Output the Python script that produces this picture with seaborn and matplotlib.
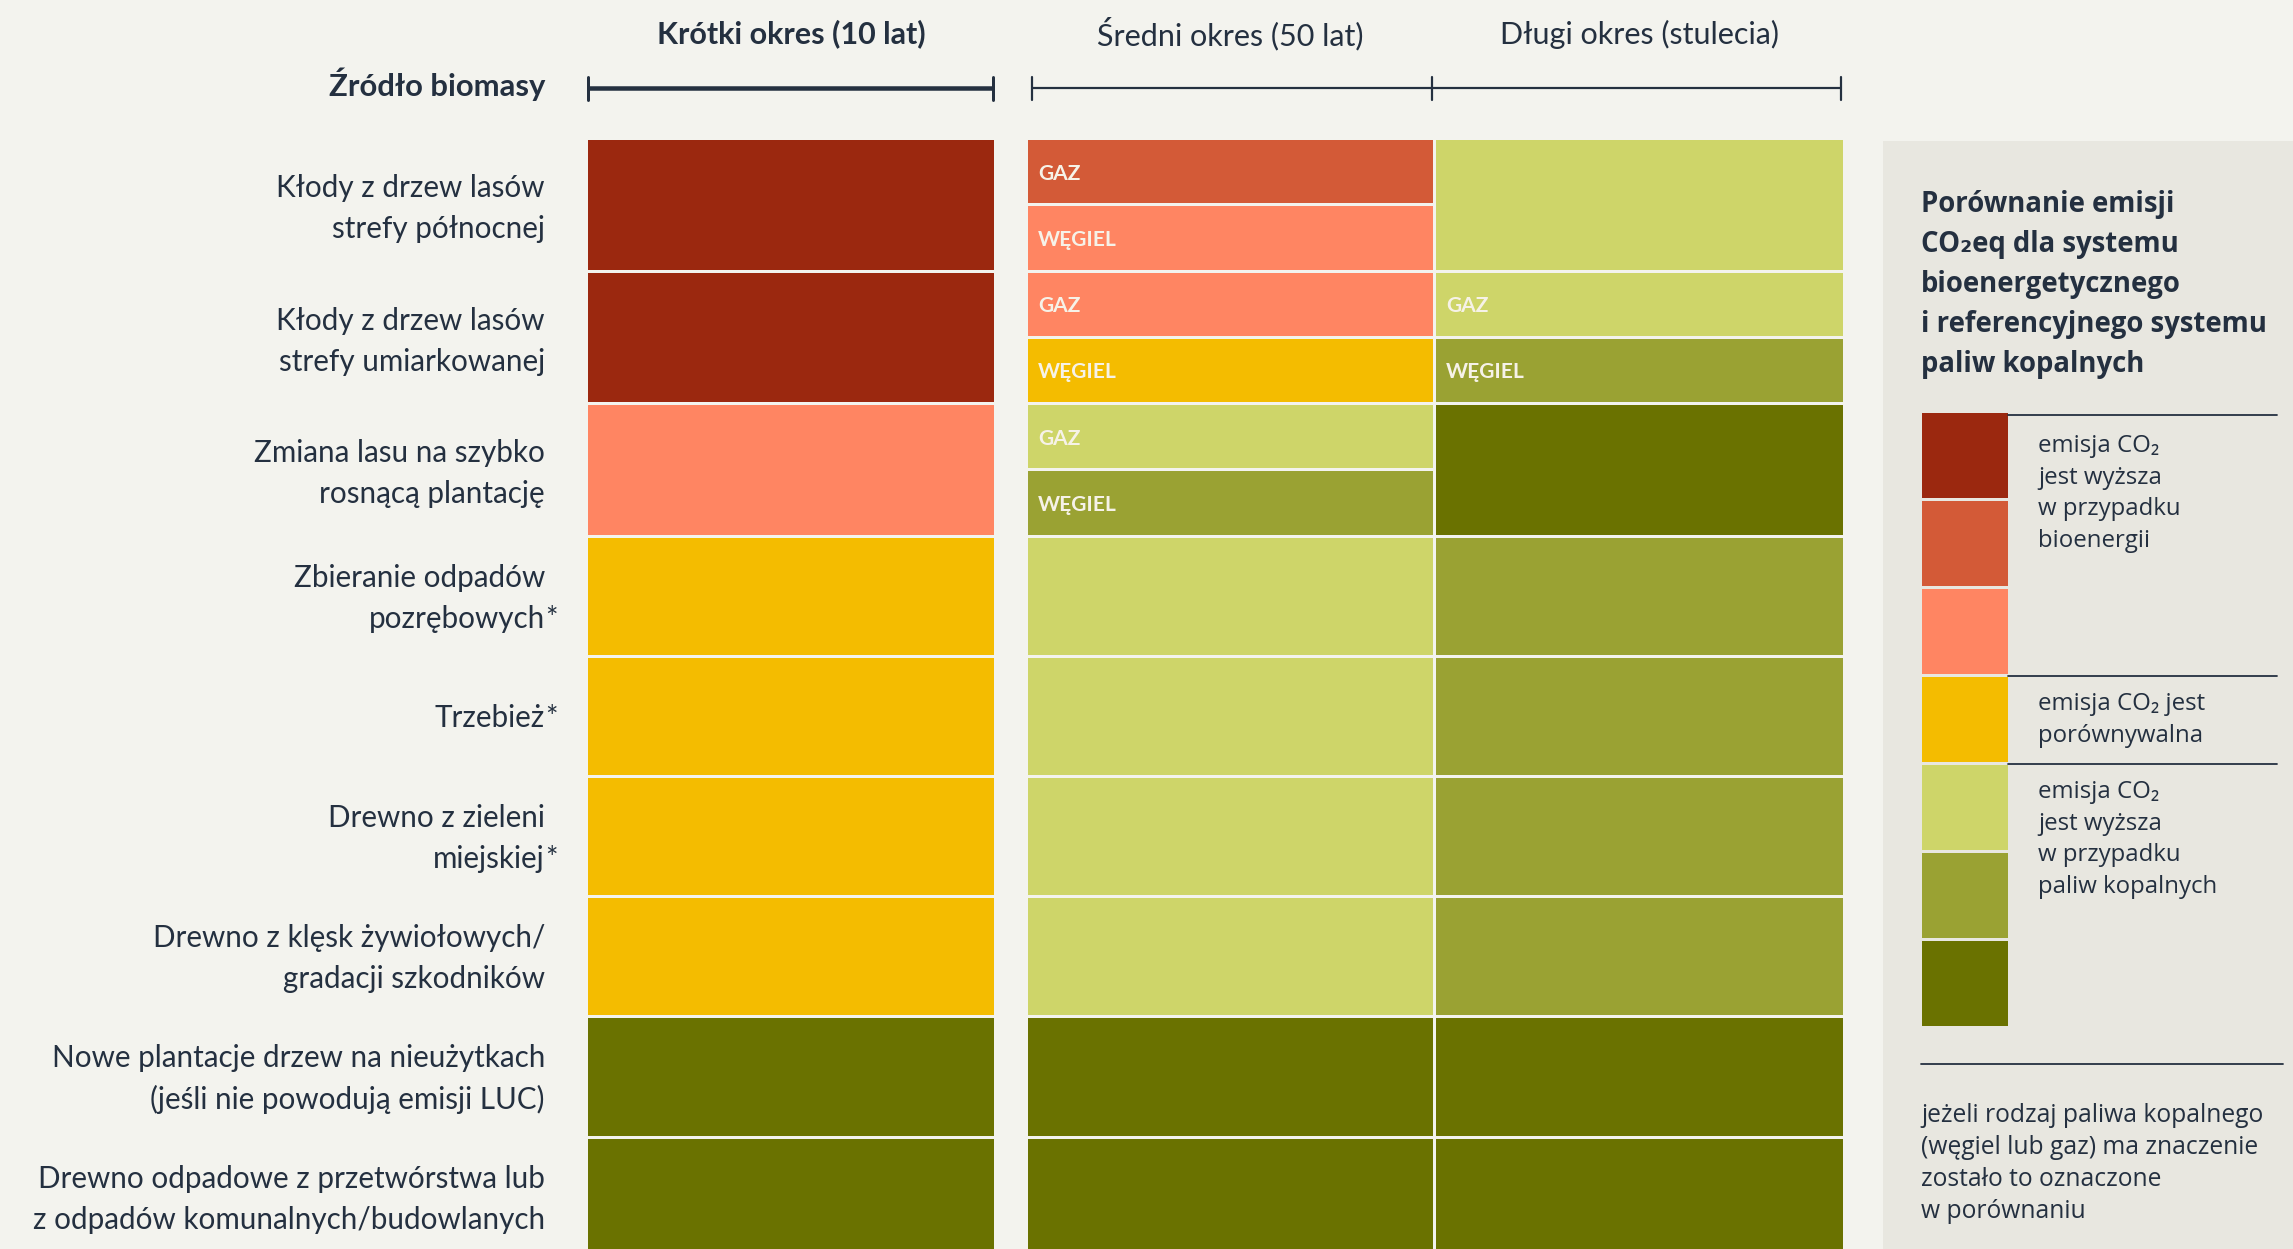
import matplotlib
matplotlib.use("Agg")
import matplotlib.pyplot as plt
import pandas as pd
import seaborn as sns

# ---------------------------------------------------------------- data
sources = [
    "Kłody z drzew lasów\nstrefy północnej",
    "Kłody z drzew lasów\nstrefy umiarkowanej",
    "Zmiana lasu na szybko\nrosnącą plantację",
    "Zbieranie odpadów\npozrębowych*",
    "Trzebież*",
    "Drewno z zieleni\nmiejskiej*",
    "Drewno z klęsk żywiołowych/\ngradacji szkodników",
    "Nowe plantacje drzew na nieużytkach\n(jeśli nie powodują emisji LUC)",
    "Drewno odpadowe z przetwórstwa lub\nz odpadów komunalnych/budowlanych",
]
periods = ["Krótki okres (10 lat)", "Średni okres (50 lat)", "Długi okres (stulecia)"]

# comparison level per cell: 0 = much higher for bioenergy ... 6 = much higher for fossil fuels
# a tuple means the result depends on the fossil fuel: (gas, coal)
short_term = [0, 0, 2, 3, 3, 3, 3, 6, 6]
medium_term = [(1, 2), (2, 3), (4, 5), 4, 4, 4, 4, 6, 6]
long_term = [4, (4, 5), 6, 5, 5, 5, 5, 6, 6]
fuel_labels = ["GAZ", "WĘGIEL"]

level_colors = ["#9B280F", "#D35A37", "#FF8562", "#F4BC00", "#CED569", "#9AA233", "#6A7200"]

legend_title = ["Porównanie emisji", "CO₂eq dla systemu", "bioenergetycznego",
                "i referencyjnego systemu", "paliw kopalnych"]
legend_groups = [
    ([0, 1, 2], ["emisja CO₂", "jest wyższa", "w przypadku", "bioenergii"]),
    ([3], ["emisja CO₂ jest", "porównywalna"]),
    ([4, 5, 6], ["emisja CO₂", "jest wyższa", "w przypadku", "paliw kopalnych"]),
]
legend_note = ["jeżeli rodzaj paliwa kopalnego", "(węgiel lub gaz) ma znaczenie",
               "zostało to oznaczone", "w porównaniu"]
row_header = "Źródło biomasy"

# ---------------------------------------------------------------- style
BG = "#F3F3EE"
PANEL = "#E8E7E0"
INK = "#243040"
CELL_TEXT = "#F6F2E8"

sns.set_theme(style="white", rc={"figure.facecolor": BG, "axes.facecolor": BG})
plt.rcParams["font.family"] = ["Lato", "DejaVu Sans"]
LEGEND_FONT = ["Open Sans", "DejaVu Sans"]
palette = sns.color_palette(level_colors)

W, H = 2293, 1249
fig = plt.figure(figsize=(W / 100, H / 100), dpi=100)
ax = fig.add_axes([0, 0, 1, 1])
ax.set_xlim(0, W)
ax.set_ylim(H, 0)
ax.axis("off")

PX = 0.72  # points per pixel at 100 dpi

# ---------------------------------------------------------------- layout
col_left = [588, 1028, 1436]
col_width = [406, 405, 407]
grid_top = 140
split_h, plain_h, gap = 129.5, 117.2, 3

# build a long table of cells
records = []
y = grid_top
for i, src in enumerate(sources):
    vals = [short_term[i], medium_term[i], long_term[i]]
    split = any(isinstance(v, tuple) for v in vals)
    h = split_h if split else plain_h
    for j, v in enumerate(vals):
        if isinstance(v, tuple):
            sub_h = (h - gap) / 2
            for k, lv in enumerate(v):
                records.append(dict(row=i, period=periods[j], level=lv,
                                    top=y + k * (sub_h + gap), height=sub_h,
                                    left=col_left[j], width=col_width[j],
                                    fuel=fuel_labels[k]))
        else:
            records.append(dict(row=i, period=periods[j], level=v, top=y, height=h,
                                left=col_left[j], width=col_width[j], fuel=""))
    # row label, with a hanging asterisk
    lines = src.split("\n")
    yc = y + h / 2 + (4 if split else 2)
    lh = 41
    for n, line in enumerate(lines):
        ly = yc + (n - (len(lines) - 1) / 2) * lh
        star = line.endswith("*")
        txt = line[:-1] if star else line
        ax.text(545, ly, txt, ha="right", va="center", fontsize=29.6 * PX, color=INK)
        if star:
            ax.text(545, ly, "*", ha="left", va="center", fontsize=29.6 * PX, color=INK)
    y += h + gap

cells = pd.DataFrame(records)
ax.barh(cells["top"] + cells["height"] / 2, cells["width"], height=cells["height"],
        left=cells["left"], color=[palette[l] for l in cells["level"]], linewidth=0)
for _, c in cells[cells["fuel"] != ""].iterrows():
    ax.text(c["left"] + 10, c["top"] + c["height"] / 2 + 2, c["fuel"], ha="left", va="center",
            fontsize=21 * PX, fontweight="bold", color=CELL_TEXT)

# ---------------------------------------------------------------- column headers
for j, p in enumerate(periods):
    cx = col_left[j] + col_width[j] / 2
    ax.text(cx, 34, p, ha="center", va="center", fontsize=30.5 * PX,
            fontweight="bold" if j == 0 else "normal", color=INK)
ax.text(545, 84, row_header, ha="right", va="center", fontsize=31 * PX,
        fontweight="bold", color=INK)

# time-span brackets
ax.plot([588, 993], [88, 88], color=INK, lw=4.5 * PX, solid_capstyle="butt")
for x in (588, 993):
    ax.plot([x, x], [77, 100], color=INK, lw=3 * PX)
ax.plot([1032, 1841], [88, 88], color=INK, lw=2.2 * PX, solid_capstyle="butt")
for x in (1032, 1432, 1841):
    ax.plot([x, x], [77, 100], color=INK, lw=2.2 * PX)

# ---------------------------------------------------------------- legend panel
ax.add_patch(plt.Rectangle((1883, 141), W - 1883, H - 141, color=PANEL, lw=0, zorder=0))
for n, line in enumerate(legend_title):
    ax.text(1921, 204 + n * 40, line, ha="left", va="center", fontsize=27.5 * PX,
            fontweight="bold", color=INK, family=LEGEND_FONT)

sw_top, sw_h, sw_gap = 413, 85, 3
sw_left, sw_w = 1922, 86
levels = list(range(len(level_colors)))
ax.barh([sw_top + l * (sw_h + sw_gap) + sw_h / 2 for l in levels], sw_w, height=sw_h,
        left=sw_left, color=[palette[l] for l in levels], linewidth=0)

for g, (lv, lines) in enumerate(legend_groups):
    gtop = sw_top + lv[0] * (sw_h + sw_gap)
    ly0 = gtop + 2 if g == 0 else gtop - 1
    ax.plot([sw_left + sw_w, 2277], [ly0, ly0], color=INK, lw=1.8 * PX)
    first = gtop + (33 if g == 0 else 27)
    for n, line in enumerate(lines):
        ax.text(2038, first + n * 31.5, line, ha="left", va="center",
                fontsize=24 * PX, color=INK, family=LEGEND_FONT)

ax.plot([1921, 2283], [1064, 1064], color=INK, lw=1.8 * PX)
for n, line in enumerate(legend_note):
    ax.text(1921, 1116 + n * 32, line, ha="left", va="center", fontsize=24.6 * PX,
            color=INK, family=LEGEND_FONT)

fig.savefig("out.png", dpi=100, facecolor=BG)
